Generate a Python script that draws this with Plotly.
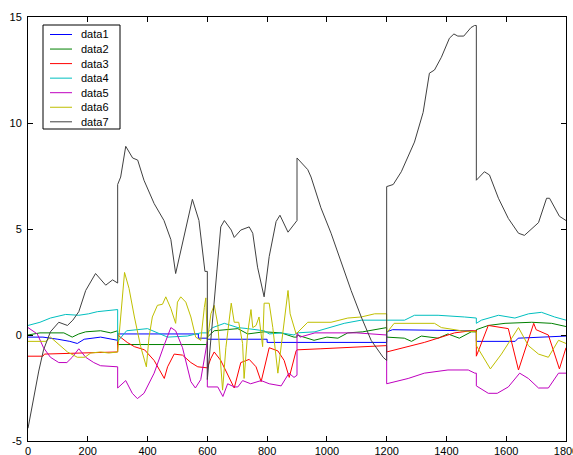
import plotly.graph_objects as go

# ---------------- data ----------------
names = ["data1", "data2", "data3", "data4", "data5", "data6", "data7"]
colors = ["#0000FF", "#008000", "#FF0000", "#00BFBF", "#BF00BF", "#BFBF00", "#404040"]

x1 = [0, 50, 100, 140, 165, 188, 243, 277, 300, 300, 570, 570, 600, 600, 800, 800, 1200, 1200, 1220, 1480, 1500, 1500, 1630, 1640, 1750, 1800]
y1 = [-0.1, -0.1, -0.2, -0.3, -0.4, -0.2, -0.1, -0.2, -0.25, 0.05, 0.05, -0.15, -0.15, -0.2, -0.2, -0.35, -0.35, 0.15, 0.25, 0.2, 0.15, -0.3, -0.3, -0.15, -0.1, -0.05]

x2 = [0, 40, 120, 148, 170, 193, 243, 277, 300, 300, 600, 600, 623, 702, 735, 790, 847, 890, 900, 900, 957, 1000, 1037, 1070, 1120, 1160, 1200, 1200, 1259, 1283, 1316, 1372, 1405, 1443, 1483, 1500, 1500, 1540, 1596, 1685, 1752, 1800]
y2 = [0.0, 0.1, 0.1, -0.1, 0.05, 0.15, 0.2, 0.1, 0.2, -0.45, -0.45, -0.1, 0.2, 0.3, 0.05, 0.15, 0.1, -0.1, -0.1, 0.0, -0.25, -0.1, -0.15, 0.1, 0.15, 0.25, 0.35, -0.1, -0.15, -0.3, -0.05, -0.15, 0.05, -0.15, 0.15, 0.15, 0.25, 0.45, 0.55, 0.6, 0.55, 0.4]

x3 = [0, 50, 55, 150, 300, 300, 332, 356, 390, 422, 456, 467, 489, 517, 545, 568, 600, 612, 623, 645, 690, 712, 740, 763, 780, 807, 836, 857, 874, 897, 900, 980, 1100, 1200, 1200, 1283, 1326, 1383, 1427, 1483, 1500, 1500, 1540, 1607, 1641, 1692, 1700, 1741, 1778, 1800]
y3 = [-1.0, -1.0, -0.9, -0.85, -0.8, 0.0, -0.35, -0.55, -0.7, -1.2, -2.05, -1.5, -0.9, -0.95, -1.3, -1.5, -1.55, -1.1, -0.8, -1.2, -2.5, -1.3, -1.15, -1.5, -2.2, -0.6, -0.75, -1.2, -2.0, -0.75, -0.7, -0.65, -0.55, -0.5, -0.8, -0.5, -0.35, -0.1, 0.1, 0.2, 0.2, -1.0, 0.45, 0.3, -1.65, 0.55, 0.25, 0.0, -1.6, -0.6]

x4 = [0, 40, 75, 126, 170, 203, 232, 294, 300, 300, 330, 400, 433, 467, 533, 578, 600, 618, 657, 702, 735, 790, 807, 847, 890, 900, 960, 1058, 1115, 1200, 1260, 1293, 1372, 1460, 1500, 1500, 1517, 1574, 1629, 1675, 1718, 1762, 1800]
y4 = [0.45, 0.6, 0.8, 0.97, 0.93, 1.0, 1.1, 1.2, 1.2, -0.3, 0.2, 0.3, 0.12, -0.1, -0.05, 0.1, 0.1, 0.35, 0.55, 0.35, 0.3, 0.2, 0.05, 0.1, 0.0, 0.1, 0.15, 0.55, 0.7, 0.7, 0.7, 0.93, 0.93, 0.85, 0.8, 0.55, 0.7, 0.93, 0.8, 1.0, 1.07, 0.85, 0.7]

x5 = [0, 31, 52, 75, 103, 130, 148, 170, 193, 220, 243, 293, 300, 300, 327, 349, 366, 388, 422, 455, 478, 494, 517, 545, 560, 578, 592, 600, 600, 635, 652, 668, 690, 702, 718, 745, 780, 807, 847, 873, 890, 900, 900, 910, 960, 1100, 1200, 1200, 1272, 1326, 1405, 1473, 1495, 1500, 1500, 1540, 1570, 1607, 1645, 1674, 1708, 1741, 1775, 1800]
y5 = [0.35, 0.05, -0.6, -1.05, -1.3, -1.3, -1.05, -0.65, -1.05, -1.3, -1.45, -1.5, -1.5, -2.5, -2.15, -2.75, -3.0, -2.75, -1.8, -0.5, 0.35, 0.2, -0.6, -2.2, -2.5, -2.1, -1.0, -0.3, -2.45, -2.45, -2.9, -2.3, -2.45, -2.45, -2.15, -2.3, -2.15, -2.3, -2.4, -1.8, -2.0, -1.9, 0.1, -0.1, 0.1, 0.1, 0.0, -2.3, -2.05, -1.8, -1.65, -1.65, -1.8, -1.8, -2.4, -2.75, -2.75, -2.45, -1.8, -2.05, -2.5, -2.5, -1.8, -1.8]

x6 = [0, 60, 75, 98, 132, 165, 190, 210, 243, 270, 300, 323, 338, 356, 377, 396, 405, 416, 433, 450, 461, 478, 494, 500, 511, 528, 545, 561, 578, 590, 595, 600, 612, 623, 635, 651, 662, 680, 690, 705, 718, 723, 735, 746, 752, 763, 773, 785, 790, 807, 819, 836, 853, 863, 870, 877, 897, 936, 1014, 1070, 1115, 1160, 1200, 1200, 1225, 1360, 1383, 1450, 1500, 1500, 1547, 1584, 1607, 1641, 1674, 1708, 1741, 1775, 1800]
y6 = [-0.3, -0.3, -0.1, -0.4, -0.8, -1.05, -1.05, -0.85, -0.8, -0.85, -0.8, 2.95, 2.2, 0.85, -0.55, -1.5, -0.1, 0.85, 1.4, 1.45, 1.8, 1.25, 0.55, 1.55, 1.8, 1.55, 0.85, -0.1, -0.25, 1.3, 1.75, -0.3, 1.0, 1.4, 0.5, -2.6, -0.6, 1.5, 0.6, 0.6, -0.4, -2.05, 0.1, 1.2, 0.35, 0.45, 0.85, -0.55, 1.5, 1.5, 0.35, -1.8, 0.2, 1.5, 2.1, 1.0, 0.05, 0.6, 0.6, 0.8, 0.85, 1.0, 1.0, 0.1, 0.55, 0.55, 0.35, 0.2, 0.15, -0.5, -1.6, -0.9, -0.4, 0.35, -0.5, -0.9, -1.05, -0.25, -0.4]

x7 = [0, 19, 36, 52, 75, 103, 132, 150, 170, 193, 226, 260, 283, 300, 300, 310, 327, 350, 367, 388, 422, 455, 478, 494, 517, 550, 572, 592, 600, 600, 645, 657, 680, 690, 712, 740, 752, 768, 790, 797, 807, 830, 843, 870, 897, 900, 900, 936, 947, 980, 1014, 1048, 1081, 1115, 1148, 1188, 1200, 1200, 1222, 1249, 1293, 1322, 1343, 1360, 1383, 1410, 1425, 1438, 1458, 1482, 1494, 1500, 1500, 1527, 1544, 1574, 1607, 1641, 1661, 1708, 1735, 1745, 1778, 1800]
y7 = [-4.4, -2.95, -1.7, -0.7, 0.15, 0.6, 0.45, 0.7, 1.1, 2.1, 2.9, 2.35, 2.6, 2.45, 7.1, 7.45, 8.9, 8.35, 8.25, 7.3, 6.2, 5.4, 4.5, 2.9, 4.35, 6.4, 5.4, 3.0, 3.0, -2.1, 5.1, 5.4, 4.95, 4.6, 4.95, 5.1, 4.8, 3.2, 1.8, 2.6, 3.7, 5.35, 5.65, 4.85, 5.4, 5.4, 8.35, 7.8, 7.45, 6.0, 4.8, 3.4, 2.1, 0.85, -0.25, -1.05, -1.2, 7.0, 7.1, 7.7, 9.1, 10.5, 12.35, 12.5, 13.1, 14.0, 14.2, 14.1, 14.1, 14.5, 14.6, 14.6, 7.3, 7.7, 7.55, 6.45, 5.5, 4.8, 4.7, 5.3, 6.45, 6.45, 5.6, 5.4]

xs = [x1, x2, x3, x4, x5, x6, x7]
ys = [y1, y2, y3, y4, y5, y6, y7]

x_ticks = [0, 200, 400, 600, 800, 1000, 1200, 1400, 1600, 1800]
y_ticks = [-5, 0, 5, 10, 15]

# ---------------- figure ----------------
W, H = 573, 455
ML, MR, MT, MB = 28, 7, 17, 14
FONT = "Liberation Sans, Arial, Helvetica, sans-serif"

fig = go.Figure()
for n, c, xx, yy in zip(names, colors, xs, ys):
    fig.add_trace(go.Scatter(x=xx, y=yy, mode="lines", name=n,
                             line=dict(color=c, width=1), showlegend=False,
                             hoverinfo="skip"))

axis_common = dict(showline=True, linecolor="black", linewidth=1, mirror="ticks",
                   ticks="inside", ticklen=5, tickcolor="black", showgrid=False,
                   zeroline=False, automargin=False, ticklabeloverflow="allow",
                   tickfont=dict(family=FONT, size=11, color="black"))
fig.update_xaxes(range=[0, 1800], tickvals=x_ticks, ticktext=[str(v) for v in x_ticks], **axis_common)
fig.update_yaxes(range=[-5, 15], tickvals=y_ticks, ticktext=[str(v) for v in y_ticks],
                 ticklabelstandoff=3, **axis_common)

# ---------------- legend (drawn as a boxed list, top-left) ----------------
pw, ph = W - ML - MR, H - MT - MB
def px2x(p): return (p - ML) / pw
def py2y(p): return 1 - (p - MT) / ph

shapes = [dict(type="rect", xref="paper", yref="paper",
               x0=px2x(43), x1=px2x(120), y0=py2y(129), y1=py2y(25),
               line=dict(color="black", width=1), fillcolor="white", layer="above")]
annotations = []
for i, (n, c) in enumerate(zip(names, colors)):
    yc = 34.5 + i * 14.55
    shapes.append(dict(type="line", xref="paper", yref="paper",
                       x0=px2x(50), x1=px2x(72), y0=py2y(yc), y1=py2y(yc),
                       line=dict(color=c, width=1), layer="above"))
    annotations.append(dict(xref="paper", yref="paper", x=px2x(79), y=py2y(yc),
                            text=n, showarrow=False, xanchor="left", yanchor="middle",
                            font=dict(family=FONT, size=11, color="black")))

fig.update_layout(width=W, height=H, margin=dict(l=ML, r=MR, t=MT, b=MB, pad=0),
                  paper_bgcolor="white", plot_bgcolor="white",
                  font=dict(family=FONT, size=11, color="black"),
                  shapes=shapes, annotations=annotations, showlegend=False,
                  hovermode=False)

fig.write_html("out.html", config={"displayModeBar": False, "staticPlot": True},
               post_script="document.body.style.margin='0px';document.body.style.overflow='hidden';")
